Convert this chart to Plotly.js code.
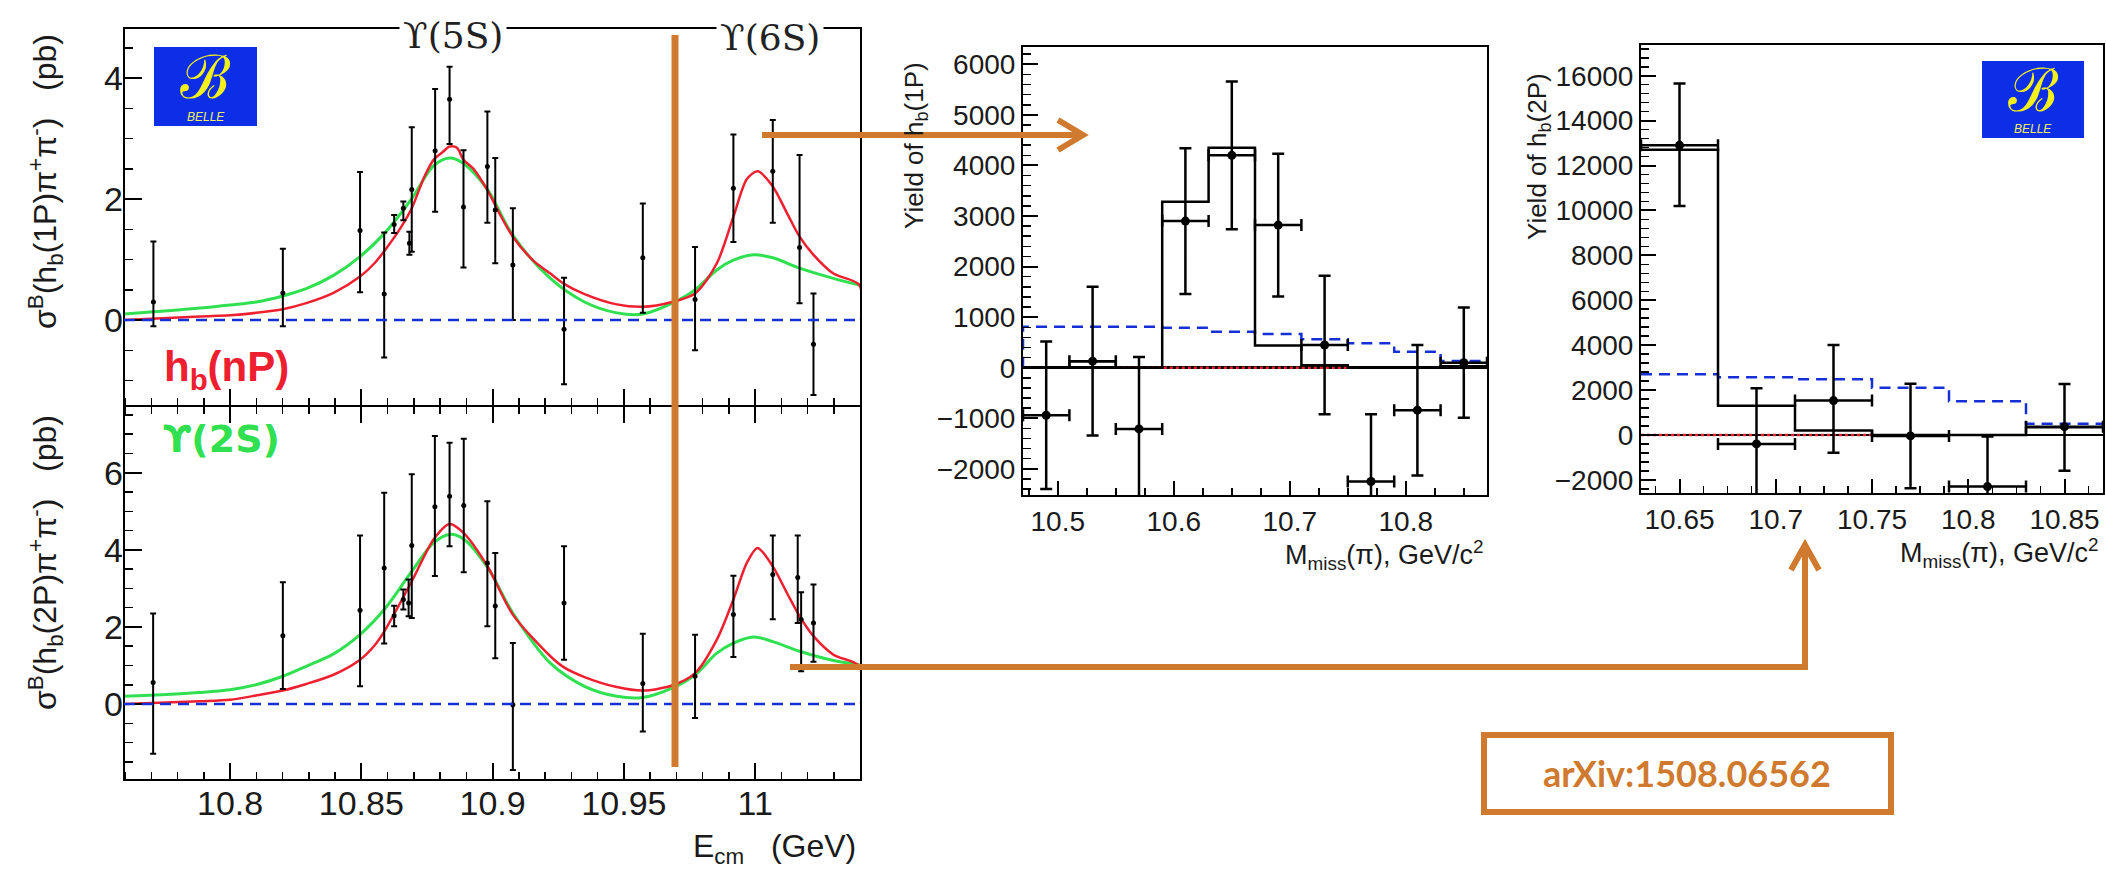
<!DOCTYPE html>
<html><head><meta charset="utf-8">
<script src="https://cdn.plot.ly/plotly-3.0.1.min.js"></script>
<style>html,body{margin:0;padding:0;background:#fff;}#chart{width:2106px;height:874px;}</style>
</head><body><div id="chart"></div>
<script>
// ---------- Left figure: cross sections vs E_cm ----------
const ecm1P = [10.7708,10.8201,10.8495,10.8587,10.8625,10.8660,10.8683,10.8692,10.8781,10.8836,10.8889,10.8980,10.9010,10.9077,10.9272,10.9572,10.9771,10.9917,11.0067,11.0169,11.0222];
const sig1P = [0.30,0.45,1.48,0.43,1.58,1.85,1.27,2.16,2.80,3.65,1.87,2.54,1.82,0.91,-0.15,1.03,0.34,2.18,2.46,1.20,-0.40];
const sig1PErrUp = [1.00,0.73,0.97,1.02,0.16,0.11,0.19,1.03,1.02,0.54,0.94,0.91,0.86,0.94,0.85,0.90,0.87,0.89,0.85,1.53,0.84];
const sig1PErrDn = [0.40,0.55,1.02,1.05,0.14,0.20,0.19,1.03,1.01,0.74,1.00,0.93,0.88,0.91,0.91,0.91,0.84,0.89,0.85,0.92,0.84];

const ecm2P = [10.7707,10.8201,10.8495,10.8587,10.8625,10.8660,10.8680,10.8692,10.8780,10.8836,10.8890,10.8980,10.9010,10.9077,10.9272,10.9572,10.9771,10.9917,11.0067,11.0162,11.0175,11.0222];
const sig2P = [0.56,1.77,2.43,3.53,2.29,2.71,2.62,4.11,5.12,5.39,5.15,3.66,2.54,-0.02,2.62,0.53,0.72,2.32,3.36,3.28,2.19,2.10];
const sig2PErrUp = [1.79,1.39,1.94,1.95,0.26,0.26,0.61,1.85,1.83,1.39,1.73,1.60,1.38,1.60,1.47,1.29,1.08,1.01,1.01,1.09,0.71,1.00];
const sig2PErrDn = [1.85,1.38,1.97,1.96,0.27,0.26,0.34,1.88,1.80,1.30,1.73,1.64,1.35,1.69,1.47,1.24,1.08,1.10,1.16,1.18,1.34,1.00];

const fitRedX1 = [10.7596,10.7886,10.8000,10.8099,10.8201,10.8290,10.8394,10.8495,10.8550,10.8587,10.8650,10.8692,10.8740,10.8775,10.8810,10.8836,10.8864,10.8889,10.8927,10.8980,10.9029,10.9077,10.9156,10.9220,10.9272,10.9350,10.9473,10.9572,10.9683,10.9771,10.9854,10.9917,10.9968,11.0009,11.0067,11.0121,11.0169,11.0222,11.0298,11.0397,11.0403];
const fitRedY1 = [0.00,0.06,0.08,0.12,0.18,0.28,0.45,0.72,0.94,1.14,1.53,1.85,2.37,2.65,2.78,2.87,2.85,2.65,2.50,2.15,1.74,1.38,0.98,0.77,0.60,0.43,0.26,0.22,0.30,0.44,0.94,1.71,2.33,2.46,2.21,1.77,1.38,1.08,0.77,0.58,0.00];
const fitGreenX1 = [10.7596,10.7886,10.8000,10.8099,10.8201,10.8290,10.8394,10.8495,10.8587,10.8692,10.8775,10.8836,10.8889,10.8980,10.9077,10.9220,10.9350,10.9473,10.9572,10.9683,10.9771,10.9854,10.9917,10.9994,11.0067,11.0169,11.0298,11.0397];
const fitGreenY1 = [0.10,0.20,0.25,0.30,0.40,0.52,0.74,1.05,1.43,2.01,2.55,2.68,2.59,2.16,1.40,0.69,0.30,0.12,0.10,0.28,0.50,0.83,0.99,1.08,1.03,0.86,0.69,0.58];

const fitRedX2 = [10.7596,10.7886,10.8000,10.8099,10.8201,10.8290,10.8394,10.8495,10.8550,10.8587,10.8692,10.8775,10.8836,10.8889,10.8980,10.9077,10.9220,10.9272,10.9350,10.9473,10.9572,10.9683,10.9771,10.9854,10.9917,10.9968,11.0009,11.0067,11.0121,11.0169,11.0222,11.0298,11.0397,11.0403];
const fitRedY2 = [0.00,0.07,0.11,0.22,0.35,0.52,0.76,1.15,1.52,1.88,3.18,4.27,4.67,4.44,3.58,2.32,1.24,0.95,0.70,0.44,0.35,0.48,0.80,1.67,2.71,3.66,4.05,3.57,2.88,2.28,1.76,1.28,0.98,0.00];
const fitGreenX2 = fitGreenX1;
const fitGreenY2 = [0.20,0.30,0.37,0.50,0.72,0.98,1.30,1.80,2.45,3.44,4.18,4.40,4.28,3.55,2.36,1.06,0.46,0.20,0.17,0.41,0.76,1.32,1.58,1.74,1.62,1.37,1.13,1.02];
const baseline = [0];

// ---------- Middle figure: yield of h_b(1P) ----------
const mm1 = [10.49,10.53,10.57,10.61,10.65,10.69,10.73,10.77,10.81,10.85];
const binHalf1 = [0.02];
const yield1 = [-940,130,-1210,2900,4200,2820,450,-2250,-840,100];
const yield1Err = [1460,1470,1420,1440,1460,1410,1370,1330,1290,1090];
const fit1 = [0,130,0,3280,4350,440,50,0,0,30];
const bkg1 = [811,811,811,790,712,666,561,482,316,132];
const redDot1 = [10.55,10.75];

// ---------- Right figure: yield of h_b(2P) ----------
const mm2 = [10.65,10.69,10.73,10.77,10.81,10.85];
const binHalf2 = [0.02];
const yield2 = [12900,-400,1530,-45,-2300,370];
const yield2ErrUp = [2750,2480,2480,2320,2230,1900];
const yield2ErrDn = [2700,2480,2320,2330,2300,1960];
const fit2 = [12700,1300,200,0,0,340];
const bkg2 = [2700,2570,2480,2100,1500,500];
const redDot2 = [10.63,10.75];

// ---------- helpers ----------
const W = 2106, H = 874;
const X = p => p / W, Y = p => 1 - p / H;
function steps(centers, half, vals, startZero) {
  const xs = [], ys = [];
  if (startZero) { xs.push(centers[0] - half); ys.push(0); }
  centers.forEach((c, i) => { xs.push(c - half, c + half); ys.push(vals[i], vals[i]); });
  return {x: xs, y: ys};
}
const ORANGE = '#CF7A2E', RED = '#EE2030', GREEN = '#30E050', BLUE = '#1530D8';
const DASH = '11px,7px';

const traces = [];
// left upper
traces.push({x: fitGreenX1, y: fitGreenY1, xaxis:'x2', yaxis:'y', mode:'lines', line:{color:GREEN, width:3, shape:'spline', smoothing:1}, hoverinfo:'skip'});
traces.push({x: fitRedX1, y: fitRedY1, xaxis:'x2', yaxis:'y', mode:'lines', line:{color:RED, width:2.5, shape:'spline', smoothing:0.8}, hoverinfo:'skip'});
traces.push({x: ecm1P, y: sig1P, xaxis:'x2', yaxis:'y', mode:'markers', marker:{color:'black', size:5},
  error_y:{type:'data', symmetric:false, array:sig1PErrUp, arrayminus:sig1PErrDn, color:'black', thickness:2, width:3}});
// left lower
traces.push({x: fitGreenX2, y: fitGreenY2, xaxis:'x', yaxis:'y2', mode:'lines', line:{color:GREEN, width:3, shape:'spline', smoothing:1}, hoverinfo:'skip'});
traces.push({x: fitRedX2, y: fitRedY2, xaxis:'x', yaxis:'y2', mode:'lines', line:{color:RED, width:2.5, shape:'spline', smoothing:0.8}, hoverinfo:'skip'});
traces.push({x: ecm2P, y: sig2P, xaxis:'x', yaxis:'y2', mode:'markers', marker:{color:'black', size:5},
  error_y:{type:'data', symmetric:false, array:sig2PErrUp, arrayminus:sig2PErrDn, color:'black', thickness:2, width:3}});

// middle
const b1 = steps(mm1, binHalf1[0], bkg1, true);
traces.push({x: b1.x, y: b1.y, xaxis:'x3', yaxis:'y3', mode:'lines', line:{color:BLUE, width:2.5, dash:DASH}});
traces.push({x: redDot1, y: [0,0], xaxis:'x3', yaxis:'y3', mode:'lines', line:{color:RED, width:2.5, dash:'dot'}});
const f1 = steps(mm1, binHalf1[0], fit1, false);
traces.push({x: f1.x, y: f1.y, xaxis:'x3', yaxis:'y3', mode:'lines', line:{color:'black', width:2.5}});
traces.push({x: mm1, y: yield1, xaxis:'x3', yaxis:'y3', mode:'markers', marker:{color:'black', size:9},
  error_y:{type:'data', array:yield1Err, color:'black', thickness:2.5, width:6},
  error_x:{type:'data', array:mm1.map(()=>binHalf1[0]), color:'black', thickness:2.5, width:6}});

// right
const b2 = steps(mm2, binHalf2[0], bkg2, false);
traces.push({x: b2.x, y: b2.y, xaxis:'x4', yaxis:'y4', mode:'lines', line:{color:BLUE, width:2.5, dash:DASH}});
traces.push({x: redDot2, y: [0,0], xaxis:'x4', yaxis:'y4', mode:'lines', line:{color:RED, width:2.5, dash:'dot'}});
const f2 = steps(mm2, binHalf2[0], fit2, false);
traces.push({x: f2.x, y: f2.y, xaxis:'x4', yaxis:'y4', mode:'lines', line:{color:'black', width:2.5}});
traces.push({x: mm2, y: yield2, xaxis:'x4', yaxis:'y4', mode:'markers', marker:{color:'black', size:9},
  error_y:{type:'data', symmetric:false, array:yield2ErrUp, arrayminus:yield2ErrDn, color:'black', thickness:2.5, width:6},
  error_x:{type:'data', array:mm2.map(()=>binHalf2[0]), color:'black', thickness:2.5, width:6}});

const tickFontL = {family:'Liberation Sans, Arial, sans-serif', size:34, color:'#1a1a1a'};
const tickFontR = {family:'Liberation Sans, Arial, sans-serif', size:28, color:'#1a1a1a'};
function ax(o) {
  return Object.assign({showgrid:false, zeroline:false, showline:true, linecolor:'black', linewidth:2,
    ticks:'inside', tickcolor:'black', tickwidth:2, mirror:true, exponentformat:'none', separatethousands:false}, o);
}
const minorL = (d) => ({dtick:d, ticklen:8, tickwidth:1.5, ticks:'inside', tickcolor:'black'});
const lDom = [X(124), X(861)];
const layout = {
  width: W, height: H, margin:{l:0,r:0,t:0,b:0}, paper_bgcolor:'white', plot_bgcolor:'white', showlegend:false,
  xaxis: ax({domain:lDom, anchor:'y2', range:[10.7596,11.0403], tick0:10.8, dtick:0.05, ticklen:17, showline:false, mirror:'ticks',
    minor:minorL(0.01), tickfont:tickFontL}),
  xaxis2: ax({domain:lDom, anchor:'y', matches:'x', range:[10.7596,11.0403], tick0:10.8, dtick:0.05, ticklen:17, showline:false, mirror:false, showticklabels:false,
    minor:minorL(0.01)}),
  yaxis: ax({domain:[Y(406), Y(28)], anchor:'x2', range:[-1.42,4.83], tick0:0, dtick:2, ticklen:18, showline:false, mirror:false,
    minor:Object.assign(minorL(0.5), {ticklen:9}), tickfont:tickFontL}),
  yaxis2: ax({domain:[Y(780), Y(406)], anchor:'x', range:[-1.97,7.73], tick0:0, dtick:2, ticklen:18, showline:false, mirror:false,
    minor:Object.assign(minorL(0.5), {ticklen:9}), tickfont:tickFontL}),
  xaxis3: ax({domain:[X(1023), X(1487)], anchor:'y3', range:[10.47,10.87], tick0:10.5, dtick:0.1, ticklen:14,
    minor:Object.assign(minorL(0.025), {ticklen:7}), tickfont:tickFontR}),
  yaxis3: ax({domain:[Y(495), Y(46.7)], anchor:'x3', range:[-2517,6348], tick0:0, dtick:1000, ticklen:15, tickformat:'d',
    zeroline:true, zerolinecolor:'black', zerolinewidth:2.5,
    minor:minorL(200), tickfont:tickFontR}),
  xaxis4: ax({domain:[X(1641), X(2103)], anchor:'y4', range:[10.63,10.87], tick0:10.65, dtick:0.05, ticklen:14,
    minor:Object.assign(minorL(0.0125), {ticklen:7}), tickfont:tickFontR}),
  yaxis4: ax({domain:[Y(493.3), Y(45)], anchor:'x4', range:[-2600,17370], tick0:0, dtick:2000, ticklen:15, tickformat:'d',
    zeroline:true, zerolinecolor:'black', zerolinewidth:2.5,
    minor:minorL(400), tickfont:tickFontR}),
  shapes: [], annotations: []
};

// frames of the left panels
layout.shapes.push({type:'rect', xref:'x2 domain', yref:'y domain', x0:0, x1:1, y0:0, y1:1, line:{color:'black', width:2}});
layout.shapes.push({type:'rect', xref:'x domain', yref:'y2 domain', x0:0, x1:1, y0:0, y1:1, line:{color:'black', width:2}});
// baseline dashed lines on left panels
layout.shapes.push({type:'line', xref:'x2 domain', yref:'y', x0:0, x1:1, y0:baseline[0], y1:baseline[0], line:{color:BLUE, width:2.5, dash:DASH}});
layout.shapes.push({type:'line', xref:'x domain', yref:'y2', x0:0, x1:1, y0:baseline[0], y1:baseline[0], line:{color:BLUE, width:2.5, dash:DASH}});

// logos
function logo(x0, y0, x1, y1) {
  layout.shapes.push({type:'rect', xref:'paper', yref:'paper', x0:X(x0), x1:X(x1), y0:Y(y1), y1:Y(y0), fillcolor:'#0c2ee6', line:{width:0}, layer:'above'});
  const cx = (x0 + x1) / 2;
  layout.annotations.push({xref:'paper', yref:'paper', x:X(cx), y:Y(y0 + (y1 - y0) * 0.38), text:'ℬ', showarrow:false,
    font:{family:'DejaVu Serif, serif', size:60, color:'#f4f01e'}, xanchor:'center', yanchor:'middle'});
  layout.annotations.push({xref:'paper', yref:'paper', x:X(cx), y:Y(y0 + (y1 - y0) * 0.88), text:'<i>BELLE</i>', showarrow:false,
    font:{family:'Liberation Sans, sans-serif', size:12, color:'#f0f060'}, xanchor:'center', yanchor:'middle'});
}
logo(154, 47, 257, 126);
logo(1982, 61, 2084, 138);

// orange decorations
layout.shapes.push({type:'path', xref:'paper', yref:'paper', path:`M${X(675)},${Y(35)} L${X(675)},${Y(767)}`, line:{color:ORANGE, width:7}});
layout.shapes.push({type:'path', xref:'paper', yref:'paper', path:`M${X(762)},${Y(135)} L${X(1080)},${Y(135)}`, line:{color:ORANGE, width:6}});
layout.shapes.push({type:'path', xref:'paper', yref:'paper', path:`M${X(1058)},${Y(120)} L${X(1083)},${Y(135)} L${X(1058)},${Y(150)}`, line:{color:ORANGE, width:6}});
layout.shapes.push({type:'path', xref:'paper', yref:'paper', path:`M${X(790)},${Y(667)} L${X(1805)},${Y(667)} L${X(1805)},${Y(548)}`, line:{color:ORANGE, width:6}});
layout.shapes.push({type:'path', xref:'paper', yref:'paper', path:`M${X(1791)},${Y(570)} L${X(1805)},${Y(545)} L${X(1819)},${Y(570)}`, line:{color:ORANGE, width:6}});
layout.shapes.push({type:'rect', xref:'paper', yref:'paper', x0:X(1484), x1:X(1891), y0:Y(812), y1:Y(735), line:{color:ORANGE, width:6}});

// text annotations
const sans = 'Liberation Sans, Arial, sans-serif';
const A = (x, y, text, o) => layout.annotations.push(Object.assign({xref:'paper', yref:'paper', x:X(x), y:Y(y), text, showarrow:false, xanchor:'center', yanchor:'middle'}, o));
A(1687, 773, '<b>arXiv:1508.06562</b>', {font:{family:'Lato, sans-serif', size:36, color:ORANGE}});
A(453, 36, 'ϒ(5S)', {font:{family:'DejaVu Serif, serif', size:36, color:'#222'}, bgcolor:'white', borderpad:3});
A(770, 38, 'ϒ(6S)', {font:{family:'DejaVu Serif, serif', size:36, color:'#222'}, bgcolor:'white', borderpad:3});
A(226, 369, '<b>h<sub>b</sub>(nP)</b>', {font:{family:sans, size:42, color:RED}});
A(221, 439, '<b>ϒ(2S)</b>', {font:{family:'DejaVu Sans, sans-serif', size:38, color:GREEN}});
A(45, 182, 'σ<sup>B</sup>(h<sub>b</sub>(1P)π<sup>+</sup>π<sup>-</sup>)&nbsp;&nbsp;&nbsp;(pb)', {textangle:-90, font:{family:sans, size:32, color:'#1a1a1a'}});
A(45, 563, 'σ<sup>B</sup>(h<sub>b</sub>(2P)π<sup>+</sup>π<sup>-</sup>)&nbsp;&nbsp;&nbsp;(pb)', {textangle:-90, font:{family:sans, size:32, color:'#1a1a1a'}});
A(858, 848, 'E<sub>cm</sub>&nbsp;&nbsp;&nbsp;(GeV)', {xanchor:'right', font:{family:sans, size:32, color:'#1a1a1a'}});
A(915, 146, 'Yield of h<sub>b</sub>(1P)', {textangle:-90, font:{family:sans, size:26, color:'#1a1a1a'}});
A(1538, 157, 'Yield of h<sub>b</sub>(2P)', {textangle:-90, font:{family:sans, size:26, color:'#1a1a1a'}});
A(1486, 555, 'M<sub>miss</sub>(π), GeV/c<sup>2</sup>', {xanchor:'right', font:{family:sans, size:27, color:'#1a1a1a'}});
A(2101, 553, 'M<sub>miss</sub>(π), GeV/c<sup>2</sup>', {xanchor:'right', font:{family:sans, size:27, color:'#1a1a1a'}});

Plotly.newPlot('chart', traces, layout, {staticPlot:true, displayModeBar:false});
</script></body></html>
